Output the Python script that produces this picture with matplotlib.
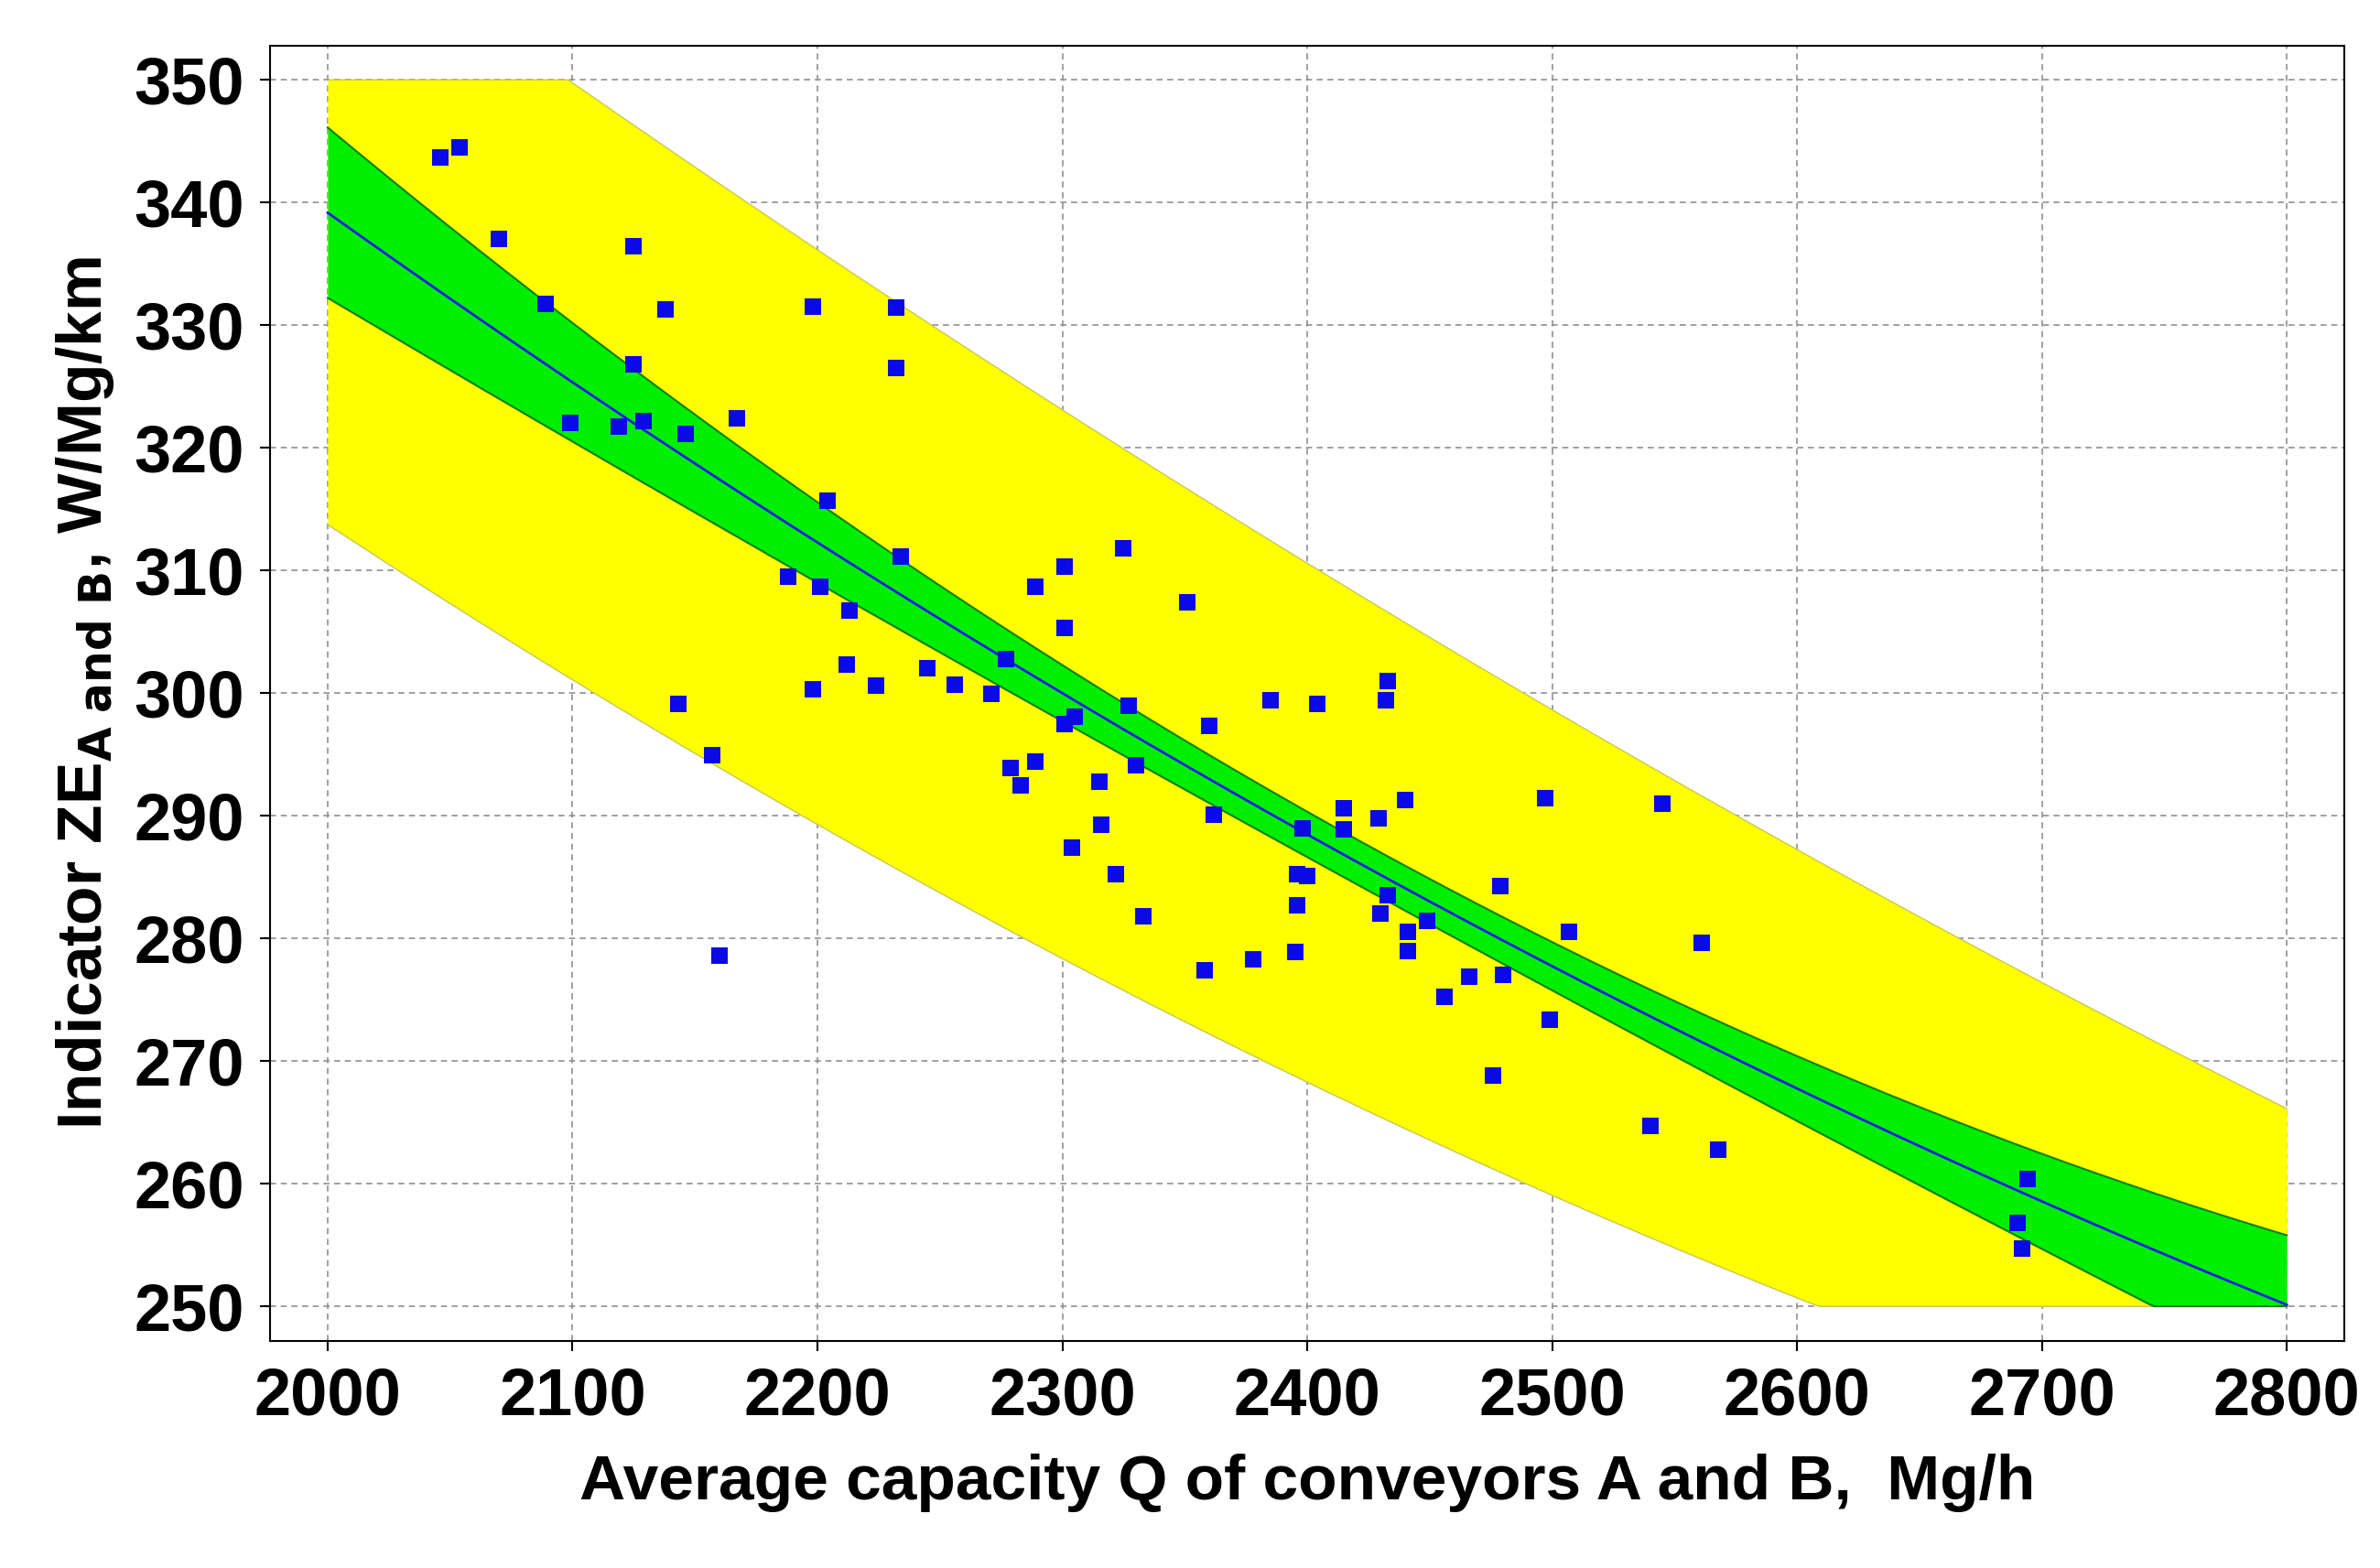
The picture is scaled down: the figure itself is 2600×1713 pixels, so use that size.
import numpy as np
import matplotlib
matplotlib.use("Agg")
import matplotlib.pyplot as plt

# band/fit reference values
band_x = [2000, 2200, 2400, 2600, 2800]
fit_y = [339.3, 312.0, 288.5, 268.0, 250.0]
conf_hi = [346.4, 315.0, 290.3, 271.0, 255.5]
conf_lo = [332.2, 309.0, 286.7, 265.0, 244.5]
pred_hi = [364.0, 336.0, 310.5, 287.5, 266.0]
pred_lo = [314.0, 289.0, 267.5, 252.0, 236.0]

pts_x = [2046,2054,2070,2089,2099,2119,2125,2125,2129,2138,2146,2143,2157,2160,2167,2188,2198,2204,2201,2213,
         2198,2212,2224,2232,2232,2234,2245,2256,2271,2277,2279,2283,2289,2289,2301,2301,2301,2305,2304,2315,
         2316,2322,2325,2327,2330,2333,2351,2360,2362,2358,2378,2385,2404,2398,2396,2400,2396,2395,2415,2415,
         2429,2430,2433,2433,2432,2440,2441,2441,2449,2456,2466,2479,2480,2476,2497,2499,2507,2540,2545,2561,
         2568,2694,2690,2692]
pts_y = [343.7,344.5,337.0,331.7,322.0,321.7,336.4,326.8,322.2,331.3,321.1,299.1,294.9,278.6,322.4,309.5,331.5,315.7,308.7,306.7,
         300.3,302.3,300.6,331.4,326.5,311.1,302.0,300.7,299.9,302.8,293.9,292.5,294.4,308.7,310.3,305.3,297.5,298.1,287.4,292.8,
         289.3,285.2,311.8,299.0,294.1,281.8,307.4,297.3,290.1,277.4,278.3,299.4,299.1,289.0,285.2,285.1,282.7,278.9,290.6,288.9,
         289.8,282.0,283.5,301.0,299.4,291.3,280.5,279.0,281.4,275.2,276.9,284.3,277.0,268.8,291.4,273.4,280.5,264.7,291.0,279.6,
         262.8,260.4,256.8,254.7]

xx = np.linspace(2000, 2800, 400)
def smooth(v):
    return np.polyval(np.polyfit(band_x, v, 2), xx)

fig = plt.figure(figsize=(26, 17.13), dpi=100)
ax = fig.add_axes([0.1135, 0.145, 0.8715, 0.826])
ax.set_xlim(1976.5, 2823.5)
ax.set_ylim(247.2, 352.8)

ylo, yhi = 250, 350
ph = np.clip(smooth(pred_hi), ylo, yhi); pl = np.clip(smooth(pred_lo), ylo, yhi)
ch = np.clip(smooth(conf_hi), ylo, yhi); cl = np.clip(smooth(conf_lo), ylo, yhi)
ax.fill_between(xx, pl, ph, color="#FFFF00", zorder=2, lw=0)
ax.plot(xx, ph, color="#C8C850", lw=1, zorder=2)
ax.plot(xx, pl, color="#C8C850", lw=1, zorder=2)
ax.fill_between(xx, cl, ch, color="#00EE00", zorder=3, lw=0)
ax.plot(xx, ch, color="#108010", lw=1.5, zorder=3)
ax.plot(xx, cl, color="#108010", lw=1.5, zorder=3)
ax.plot(xx, smooth(fit_y), color="#2020E0", lw=2, zorder=4)
ax.scatter(pts_x, pts_y, marker="s", s=180, color="#0A0AE6", zorder=5, lw=0)

ax.set_xticks(range(2000, 2801, 100))
ax.set_yticks(range(250, 351, 10))
ax.grid(True, color="#909090", ls=(0, (4, 3)), lw=1.2, zorder=1)
ax.set_axisbelow(True)
for s in ax.spines.values():
    s.set_linewidth(1.5)
ax.tick_params(labelsize=52, width=1.5, length=8, pad=12)
for t in ax.get_xticklabels() + ax.get_yticklabels():
    t.set_fontweight("bold"); t.set_fontfamily("Liberation Sans")
ax.set_xlabel("Average capacity Q of conveyors A and B,  Mg/h", fontsize=50,
              fontweight="bold", fontfamily="Liberation Sans", labelpad=20)
ax.set_ylabel(r"Indicator ZE$_{\mathbf{A\ and\ B}}$, W/Mg/km", fontsize=50,
              fontweight="bold", fontfamily="Liberation Sans", labelpad=14)
fig.savefig("out.png", dpi=100)
